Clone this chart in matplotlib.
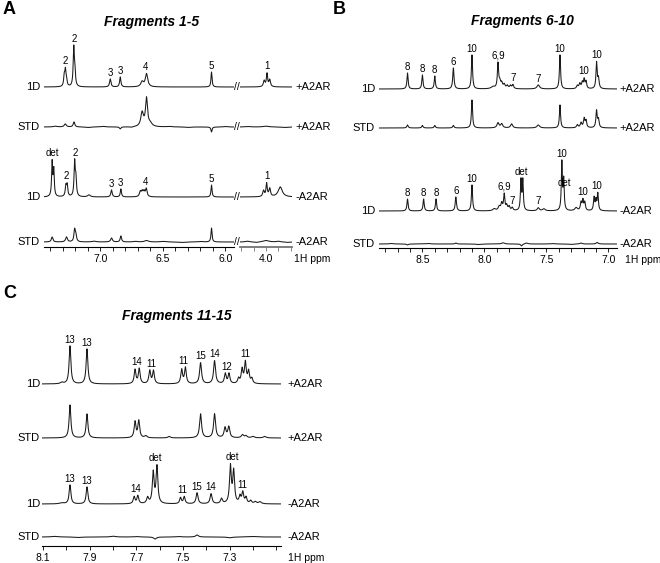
import numpy as np
import matplotlib.pyplot as plt
from matplotlib.ticker import MultipleLocator, FixedLocator, FormatStrFormatter

plt.rcParams['font.family'] = ['Liberation Sans', 'DejaVu Sans']

W, H = 660, 563

# ---------------- peak lists: (ppm, height, fwhm) ----------------
# Panel A - fragments 1-5 (left region 7.45-5.93 ppm, right region 4.21-3.79 ppm)
a_1d_plus_l = [(7.288, 10, .006), (7.279, 15, .006), (7.27, 6, .006), (7.212, 38, .006), (7.203, 14, .006),
               (6.92, 8, .008), (6.84, 10, .007), (6.665, 5, .02), (6.63, 13, .018), (6.11, 15, .005)]
a_1d_plus_r = [(4.015, 6, .01), (3.992, 13, .007), (3.97, 7, .01)]
a_std_plus_l = [(7.36, 0.8, .03), (7.28, 3, .015), (7.21, 5, .01), (7.1, -0.6, .03), (6.98, 0.6, .03),
                (6.84, -2, .01), (6.75, -0.6, .03), (6.665, 14, .02), (6.63, 28, .014), (6.60, 3, .03),
                (6.45, 0.5, .04), (6.3, -0.5, .04), (6.11, -5, .006), (6.0, 0.5, .03)]
a_std_plus_r = [(4.15, 0.5, .04), (4.0, 0.8, .05), (3.85, -0.5, .04)]
a_1d_minus_l = [(7.385, 34, .005), (7.372, 26, .005), (7.275, 10, .007), (7.265, 11, .007), (7.205, 34, .006),
                (7.195, 17, .006), (7.09, 2, .02), (6.91, 7, .008), (6.835, 8, .006), (6.68, 5, .01),
                (6.665, 5, .01), (6.65, 5, .01), (6.632, 8, .01), (6.11, 12, .005)]
a_1d_minus_r = [(4.02, 6, .01), (3.995, 13, .007), (3.97, 8, .01), (3.885, 10, .035)]
a_std_minus_l = [(7.385, 5, .01), (7.27, 5, .012), (7.205, 12, .008), (7.195, 6, .008), (7.05, 0.8, .03),
                 (6.91, 4, .012), (6.835, 6, .008), (6.72, 0.6, .03), (6.63, 1.5, .03), (6.5, 0.6, .04),
                 (6.35, -0.5, .04), (6.2, 0.5, .04), (6.11, 14, .005)]
a_std_minus_r = [(4.15, 0.8, .03), (4.08, -0.6, .03), (4.0, 1.5, .05), (3.9, 0.7, .03), (3.83, -0.5, .03)]

# peak labels: (ppm, text, search window for the top)
a_lab_1d_plus_l = [(7.283, '2', .012), (7.21, '2', .01), (6.92, '3', .01), (6.84, '3', .01),
                   (6.635, '4', .015), (6.11, '5', .01)]
a_lab_1d_plus_r = [(3.992, '1', .01)]
a_lab_1d_minus_l = [(7.38, 'det', .01), (7.27, '2', .01), (7.203, '2', .01), (6.91, '3', .01),
                    (6.835, '3', .01), (6.64, '4', .015), (6.11, '5', .01)]
a_lab_1d_minus_r = [(3.995, '1', .01)]

# Panel B - fragments 6-10
b_1d_plus = [(8.62, 16, .006), (8.50, 14, .006), (8.40, 13, .006), (8.25, 21, .007), (8.10, 34, .006),
             (7.93, 2, .03), (7.89, 25, .007), (7.875, 6, .01), (7.86, 5, .01), (7.84, 4, .012),
             (7.815, 3, .012), (7.79, 3, .01), (7.77, 4, .01), (7.565, 4, .02), (7.39, 34, .006),
             (7.25, 3, .01), (7.23, 5, .01), (7.21, 6, .008), (7.195, 9, .007), (7.18, 7, .007),
             (7.095, 26, .006), (7.08, 10, .008)]
b_std_plus = [(8.62, 3, .008), (8.50, 2.5, .008), (8.40, 2.5, .008), (8.25, 2.5, .008), (8.10, 28, .006),
              (7.89, 5, .015), (7.86, 4, .015), (7.78, 4, .015), (7.565, 3, .02), (7.39, 23, .006),
              (7.25, 3, .01), (7.22, 5, .01), (7.195, 9, .008), (7.18, 7, .008), (7.095, 17, .007),
              (7.08, 8, .008)]
b_1d_minus = [(8.62, 12, .006), (8.49, 12, .006), (8.39, 12, .006), (8.23, 14, .007), (8.10, 26, .006),
              (7.92, 2, .02), (7.88, 4, .015), (7.86, 7, .01), (7.84, 16, .007), (7.82, 5, .01),
              (7.80, 4, .01), (7.775, 3, .01), (7.705, 30, .005), (7.69, 30, .005), (7.565, 3, .015),
              (7.52, 2, .02), (7.375, 48, .005), (7.36, 30, .005), (7.26, 3, .02), (7.22, 8, .008),
              (7.205, 10, .007), (7.19, 8, .007), (7.115, 13, .006), (7.10, 10, .006), (7.085, 17, .006)]
b_std_minus = [(8.75, 0.5, .03), (8.62, -1, .01), (8.45, 0.5, .03), (8.23, 1, .01), (8.05, -0.5, .03),
               (7.85, 1.2, .02), (7.70, -2, .01), (7.66, 1, .02), (7.45, 0.5, .03), (7.3, -0.5, .03),
               (7.22, 1, .015), (7.09, 1.5, .015)]

b_lab_1d_plus = [(8.62, '8', .01), (8.50, '8', .01), (8.40, '8', .01), (8.25, '6', .01), (8.10, '10', .01),
                 (7.89, '6,9', .01), (7.77, '7', .01), (7.565, '7', .01), (7.39, '10', .01),
                 (7.195, '10', .015), (7.095, '10', .01)]
b_lab_1d_minus = [(8.62, '8', .01), (8.49, '8', .01), (8.39, '8', .01), (8.23, '6', .01), (8.10, '10', .01),
                  (7.84, '6,9', .01), (7.775, '7', .01), (7.70, 'det', .012), (7.565, '7', .01),
                  (7.375, '10', .005), (7.352, 'det', .004), (7.205, '10', .015), (7.09, '10', .015)]

# Panel C - fragments 11-15
c_1d_plus = [(8.02, 1.5, .01), (7.985, 38, .005), (7.912, 35, .005), (7.706, 14, .005), (7.688, 15, .005),
             (7.643, 13, .005), (7.627, 13, .005), (7.506, 14, .005), (7.49, 16, .005), (7.425, 21, .006),
             (7.365, 23, .006), (7.319, 10, .005), (7.303, 10, .005), (7.262, 5, .005), (7.247, 14, .005),
             (7.233, 21, .005), (7.219, 12, .005), (7.205, 5, .005)]
c_std_plus = [(7.985, 33, .005), (7.912, 24, .005), (7.706, 16, .005), (7.69, 17, .005), (7.66, 2, .008),
              (7.56, 1.5, .008), (7.425, 24, .006), (7.365, 24, .006), (7.32, 10, .006), (7.304, 11, .006),
              (7.245, 3, .008), (7.23, 2, .008), (7.20, 1.5, .01), (7.15, 1.5, .01)]
c_1d_minus = [(8.02, 1, .02), (7.985, 19, .005), (7.912, 17, .005), (7.71, 7, .005), (7.694, 8, .005),
              (7.652, 6, .006), (7.628, 31, .005), (7.612, 37, .005), (7.511, 6, .005), (7.495, 7, .005),
              (7.44, 11, .006), (7.38, 10, .006), (7.335, 5, .006), (7.297, 37, .005), (7.283, 32, .005),
              (7.256, 7, .005), (7.244, 11, .005), (7.23, 6, .005), (7.21, 3, .006), (7.19, 2, .008),
              (7.17, 2, .01)]
c_std_minus = [(8.05, 0.6, .03), (7.95, -0.5, .03), (7.80, 0.8, .02), (7.70, 0.5, .02), (7.62, -2, .01),
               (7.52, 0.5, .02), (7.44, 2, .01), (7.30, -0.8, .02), (7.2, 0.5, .03)]

c_lab_1d_plus = [(7.985, '13', .01), (7.912, '13', .01), (7.697, '14', .014), (7.635, '11', .014),
                 (7.498, '11', .014), (7.425, '15', .01), (7.365, '14', .01), (7.311, '12', .014),
                 (7.233, '11', .02)]
c_lab_1d_minus = [(7.985, '13', .01), (7.912, '13', .01), (7.702, '14', .014), (7.62, 'det', .014),
                  (7.503, '11', .014), (7.44, '15', .01), (7.38, '14', .01), (7.29, 'det', .014),
                  (7.244, '11', .012)]
c_ticks = [8.1, 7.9, 7.7, 7.5, 7.3]

row_names = ['1D', 'STD', '1D', 'STD']
row_tags = ['+A2AR', '+A2AR', '-A2AR', '-A2AR']


def spectrum(x, peaks, extra):
    y = np.zeros_like(x)
    for p, h, w in peaks:
        hw = (w + extra) / 2
        y += h * hw ** 2 / ((x - p) ** 2 + hw ** 2)
    return y


def px_axes(fig, x0, x1, ytop, ybot):
    return fig.add_axes([x0 / W, 1 - ybot / H, (x1 - x0) / W, (ybot - ytop) / H])


def style(ax, lim, major, color='k', lw=0.8):
    ax.set_xlim(*lim)
    ax.set_ylim(0, ybot_span)
    for s in ['top', 'left', 'right']:
        ax.spines[s].set_visible(False)
    ax.spines['bottom'].set_color(color)
    ax.spines['bottom'].set_linewidth(lw)
    ax.set_yticks([])
    ax.set_facecolor('none')
    if isinstance(major, list):
        ax.xaxis.set_major_locator(FixedLocator(major))
    else:
        ax.xaxis.set_major_locator(MultipleLocator(major))
    ax.xaxis.set_minor_locator(MultipleLocator(0.1))
    ax.xaxis.set_major_formatter(FormatStrFormatter('%.1f'))
    ax.tick_params(axis='x', which='both', direction='out', length=3, width=0.6,
                   labelsize=7.5, pad=2, color=color)


def draw(ax, lim, traces, offsets, labels, extra):
    x = np.linspace(lim[0], lim[1], 6000)
    for peaks, off, labs in zip(traces, offsets, labels):
        y = spectrum(x, peaks, extra)
        ax.plot(x, y + off, color='#1a1a1a', lw=0.75)
        for p, t, win in labs:
            m = np.abs(x - p) < win
            ax.text(p, off + y[m].max() + 1.2, t, ha='center', va='bottom', fontsize=7)


fig = plt.figure(figsize=(W / 100, H / 100), dpi=100)
ybot_span = 217

# ---- Panel A ----
a_off = [160, 120, 50, 5]
a_lim_l, a_lim_r = (7.45, 5.93), (4.21, 3.79)
axA1 = px_axes(fig, 44, 234, 247 - ybot_span, 247)
axA2 = px_axes(fig, 240, 292, 247 - ybot_span, 247)
style(axA1, a_lim_l, 0.5)
style(axA2, a_lim_r, 0.5, color='0.45', lw=1.3)
draw(axA1, a_lim_l, [a_1d_plus_l, a_std_plus_l, a_1d_minus_l, a_std_minus_l], a_off,
     [a_lab_1d_plus_l, [], a_lab_1d_minus_l, []], 0.005)
draw(axA2, a_lim_r, [a_1d_plus_r, a_std_plus_r, a_1d_minus_r, a_std_minus_r], a_off,
     [a_lab_1d_plus_r, [], a_lab_1d_minus_r, []], 0.005)
for off in a_off:
    fig.text(237 / W, 1 - (247 - off) / H, '//', fontsize=7.5, ha='center', va='center')

# ---- Panel B ----
b_off = [159, 120, 37, 4]
b_lim = (8.85, 6.93)
axB = px_axes(fig, 379, 617, 248 - ybot_span, 248)
style(axB, b_lim, 0.5)
draw(axB, b_lim, [b_1d_plus, b_std_plus, b_1d_minus, b_std_minus], b_off,
     [b_lab_1d_plus, [], b_lab_1d_minus, []], 0.005)

# ---- Panel C ----
c_off = [162, 108, 42, 9]
c_lim = (8.105, 7.08)
axC = px_axes(fig, 42, 281, 546 - ybot_span, 546)
style(axC, c_lim, c_ticks)
draw(axC, c_lim, [c_1d_plus, c_std_plus, c_1d_minus, c_std_minus], c_off,
     [c_lab_1d_plus, [], c_lab_1d_minus, []], 0.004)

# ---- row labels, titles, panel letters ----
for (xl, xr, xu, axis_y, offs) in [(40, 295, 294, 247, a_off), (375, 619, 625, 248, b_off),
                                   (40, 287, 288, 546, c_off)]:
    for name, tag, off in zip(row_names, row_tags, offs):
        yy = 1 - (axis_y - off) / H
        fig.text(xl / W, yy, name, ha='right', va='center', fontsize=8)
        fig.text(xr / W, yy, tag, ha='left', va='center', fontsize=8)
    fig.text(xu / W, 1 - (axis_y + 12) / H, '1H ppm', ha='left', va='center', fontsize=7.5)

fig.text(152 / W, 1 - 22 / H, 'Fragments 1-5', ha='center', va='center', fontsize=10,
         fontweight='bold', fontstyle='italic')
fig.text(522 / W, 1 - 21 / H, 'Fragments 6-10', ha='center', va='center', fontsize=10,
         fontweight='bold', fontstyle='italic')
fig.text(177 / W, 1 - 316 / H, 'Fragments 11-15', ha='center', va='center', fontsize=10,
         fontweight='bold', fontstyle='italic')
fig.text(3 / W, 1 - 9 / H, 'A', ha='left', va='center', fontsize=13, fontweight='bold')
fig.text(333 / W, 1 - 9 / H, 'B', ha='left', va='center', fontsize=13, fontweight='bold')
fig.text(3 / W, 1 - 294 / H, 'C', ha='left', va='center', fontsize=13, fontweight='bold')

fig.savefig('out.png', dpi=100)
